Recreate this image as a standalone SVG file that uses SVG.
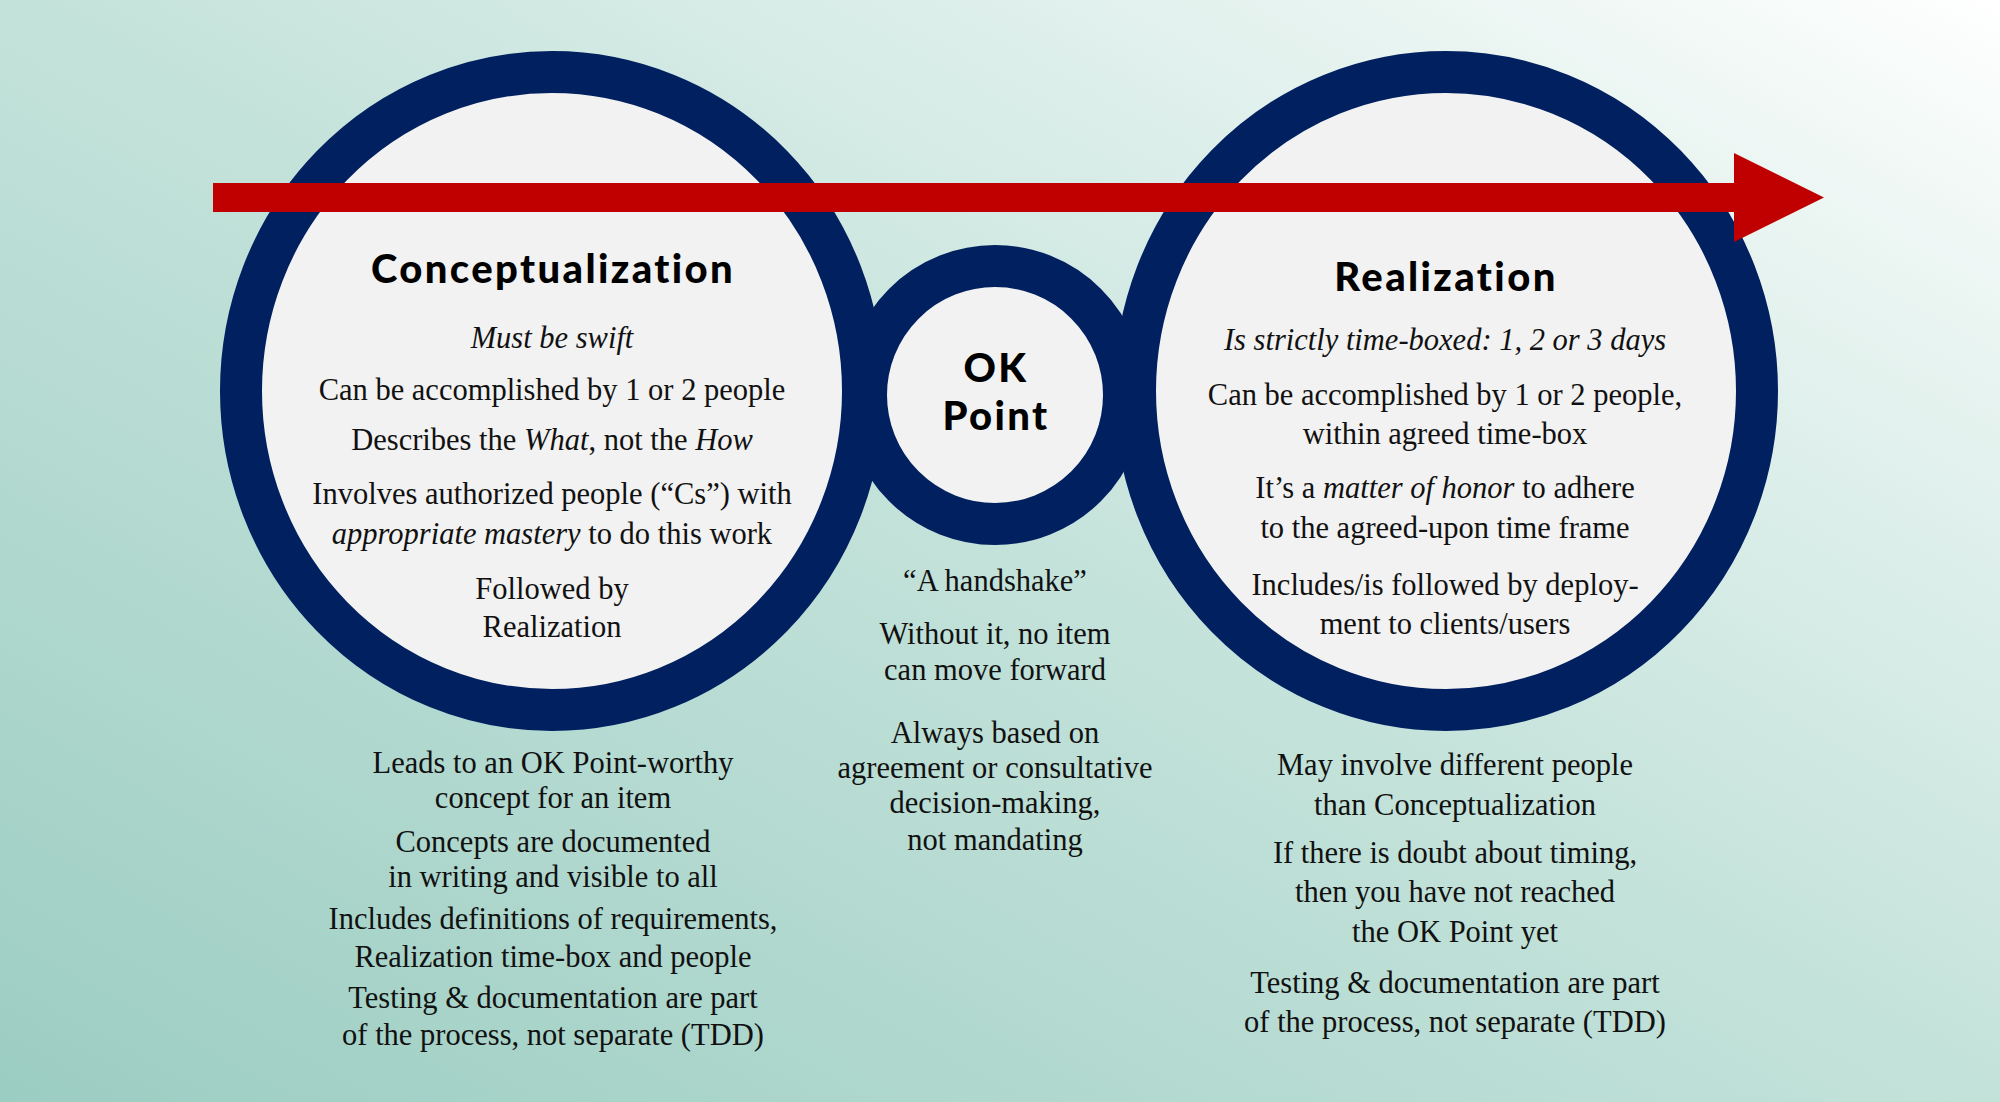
<svg xmlns="http://www.w3.org/2000/svg" width="2000" height="1102" viewBox="0 0 2000 1102">
  <defs>
    <linearGradient id="bg" x1="0" y1="1" x2="1" y2="0">
      <stop offset="0" stop-color="#9ccdc2"/>
      <stop offset="0.5" stop-color="#c3e2da"/>
      <stop offset="0.85" stop-color="#eaf5f2"/>
      <stop offset="1" stop-color="#ffffff"/>
    </linearGradient>
  </defs>
  <style>
    .ring { fill: #f2f2f2; stroke: #002060; stroke-width: 42; }
    .title { font-family: Lato, "Open Sans", sans-serif; font-weight: 900; font-size: 40px; letter-spacing: 2.4px; fill: #000; text-anchor: middle; }
    .txt { font-family: "Liberation Serif", "Times New Roman", serif; font-size: 30.5px; fill: #111; text-anchor: middle; }
    .it { font-style: italic; }
    .arrow { fill: #c00000; }
  </style>
  <rect x="0" y="0" width="2000" height="1102" fill="url(#bg)"/>

  <g id="conceptualization">
    <ellipse class="ring" cx="552" cy="391" rx="311" ry="319"/>
    <text class="title" x="553" y="283">Conceptualization</text>
    <text class="txt it" x="552" y="348">Must be swift</text>
    <text class="txt" x="552" y="400">Can be accomplished by 1 or 2 people</text>
    <text class="txt" x="552" y="450">Describes the <tspan class="it">What</tspan>, not the <tspan class="it">How</tspan></text>
    <text class="txt" x="552" y="504">Involves authorized people (“Cs”) with</text>
    <text class="txt" x="552" y="544"><tspan class="it">appropriate mastery</tspan> to do this work</text>
    <text class="txt" x="552" y="599">Followed by</text>
    <text class="txt" x="552" y="637">Realization</text>
  </g>

  <g id="realization">
    <ellipse class="ring" cx="1446" cy="391" rx="311" ry="319"/>
    <text class="title" x="1446" y="291">Realization</text>
    <text class="txt it" x="1445" y="350">Is strictly time-boxed: 1, 2 or 3 days</text>
    <text class="txt" x="1445" y="405">Can be accomplished by 1 or 2 people,</text>
    <text class="txt" x="1445" y="444">within agreed time-box</text>
    <text class="txt" x="1445" y="498">It’s a <tspan class="it">matter of honor</tspan> to adhere</text>
    <text class="txt" x="1445" y="538">to the agreed-upon time frame</text>
    <text class="txt" x="1445" y="595">Includes/is followed by deploy-</text>
    <text class="txt" x="1445" y="634">ment to clients/users</text>
  </g>

  <g id="ok-point">
    <circle class="ring" cx="995" cy="395" r="129"/>
    <text class="title" x="996" y="382">OK</text>
    <text class="title" x="996" y="430">Point</text>
  </g>

  <g id="conceptualization-notes">
    <text class="txt" x="553" y="773">Leads to an OK Point-worthy</text>
    <text class="txt" x="553" y="808">concept for an item</text>
    <text class="txt" x="553" y="852">Concepts are documented</text>
    <text class="txt" x="553" y="887">in writing and visible to all</text>
    <text class="txt" x="553" y="929">Includes definitions of requirements,</text>
    <text class="txt" x="553" y="967">Realization time-box and people</text>
    <text class="txt" x="553" y="1008">Testing &amp; documentation are part</text>
    <text class="txt" x="553" y="1045">of the process, not separate (TDD)</text>
  </g>

  <g id="ok-point-notes">
    <text class="txt" x="995" y="591">“A handshake”</text>
    <text class="txt" x="995" y="644">Without it, no item</text>
    <text class="txt" x="995" y="680">can move forward</text>
    <text class="txt" x="995" y="743">Always based on</text>
    <text class="txt" x="995" y="778">agreement or consultative</text>
    <text class="txt" x="995" y="813">decision-making,</text>
    <text class="txt" x="995" y="850">not mandating</text>
  </g>

  <g id="realization-notes">
    <text class="txt" x="1455" y="775">May involve different people</text>
    <text class="txt" x="1455" y="815">than Conceptualization</text>
    <text class="txt" x="1455" y="863">If there is doubt about timing,</text>
    <text class="txt" x="1455" y="902">then you have not reached</text>
    <text class="txt" x="1455" y="942">the OK Point yet</text>
    <text class="txt" x="1455" y="993">Testing &amp; documentation are part</text>
    <text class="txt" x="1455" y="1032">of the process, not separate (TDD)</text>
  </g>

  <g id="connectors">
    <polygon class="arrow" points="213,183 1734,183 1734,153 1824,197.5 1734,242 1734,212 213,212"/>
  </g>
</svg>
